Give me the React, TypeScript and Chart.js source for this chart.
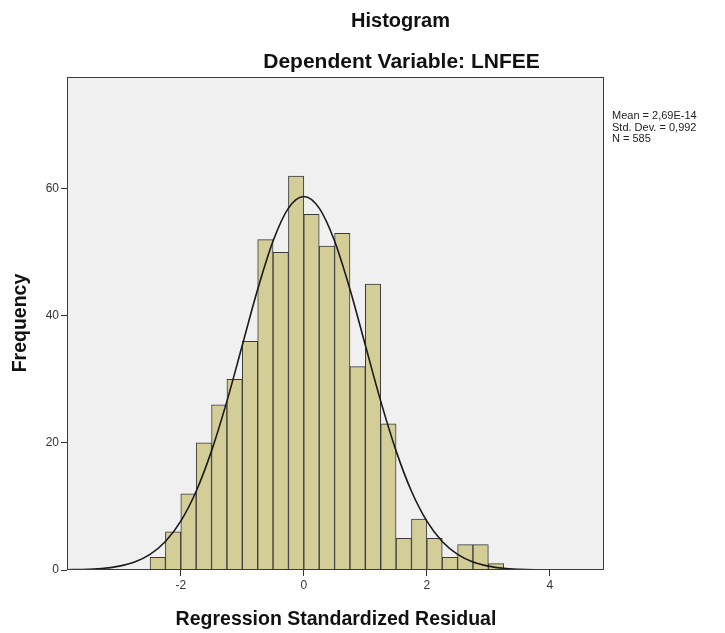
import React, { useEffect, useRef } from "react";
import { Chart, registerables } from "chart.js";

Chart.register(...registerables);

// Histogram bins (centres, bin width 0.25) and frequencies
const BIN_CENTERS = [
  -2.375, -2.125, -1.875, -1.625, -1.375, -1.125, -0.875, -0.625, -0.375, -0.125,
  0.125, 0.375, 0.625, 0.875, 1.125, 1.375, 1.625, 1.875, 2.125, 2.375, 2.625, 2.875, 3.125,
];
const FREQUENCIES = [
  2, 6, 12, 20, 26, 30, 36, 52, 50, 62,
  56, 51, 53, 32, 45, 23, 5, 8, 5, 2, 4, 4, 1,
];

// Normal curve
const CURVE_X = [
  -3.85, -3.5, -3.25, -3, -2.75, -2.5, -2.25, -2, -1.75, -1.5, -1.25, -1, -0.75, -0.5, -0.25,
  0, 0.25, 0.5, 0.75, 1, 1.25, 1.5, 1.75, 2, 2.25, 2.5, 2.75, 3, 3.25, 3.5, 3.75, 4, 4.5, 4.88,
];
const CURVE_Y = [
  0.03, 0.12, 0.27, 0.61, 1.26, 2.46, 4.49, 7.7, 12.4, 18.75, 26.58, 35.38, 44.18, 51.78, 56.96,
  58.8, 56.96, 51.78, 44.18, 35.38, 26.58, 18.75, 12.4, 7.7, 4.49, 2.46, 1.26, 0.61, 0.27, 0.12, 0.05, 0.02, 0, 0,
];

const X_TICKS = [-2, 0, 2, 4];
const Y_TICKS = [0, 20, 40, 60];
const X_MIN = -3.85;
const X_MAX = 4.88;
const Y_MAX = 77.6;

const TITLE = "Histogram";
const SUBTITLE = "Dependent Variable: LNFEE";
const X_TITLE = "Regression Standardized Residual";
const Y_TITLE = "Frequency";
const STATS = ["Mean = 2,69E-14", "Std. Dev. = 0,992", "N = 585"];

const FONT = "'Liberation Sans', Arial, sans-serif";

export default function App() {
  const ref = useRef<HTMLCanvasElement | null>(null);

  useEffect(() => {
    document.body.style.margin = "0";
    const canvas = ref.current;
    if (!canvas) return;

    const decor = {
      id: "decor",
      beforeDraw(chart: any) {
        const { ctx, chartArea } = chart;
        ctx.save();
        ctx.fillStyle = "#ffffff";
        ctx.fillRect(0, 0, chart.width, chart.height);
        ctx.fillStyle = "#f0f0f0";
        ctx.fillRect(chartArea.left, chartArea.top, chartArea.right - chartArea.left, chartArea.bottom - chartArea.top);
        ctx.restore();
      },
      afterDraw(chart: any) {
        const { ctx, chartArea } = chart;
        ctx.save();
        ctx.strokeStyle = "#3a3a3a";
        ctx.lineWidth = 1;
        ctx.strokeRect(
          Math.round(chartArea.left) + 0.5,
          Math.round(chartArea.top) + 0.5,
          Math.round(chartArea.right - chartArea.left) - 1,
          Math.round(chartArea.bottom - chartArea.top) - 1
        );
        ctx.fillStyle = "#111";
        ctx.textAlign = "center";
        ctx.textBaseline = "alphabetic";
        ctx.font = `bold 20px ${FONT}`;
        ctx.fillText(TITLE, 400.5, 27);
        ctx.font = `bold 21px ${FONT}`;
        ctx.fillText(SUBTITLE, 401.5, 68);
        ctx.font = `bold 19.5px ${FONT}`;
        ctx.fillText(X_TITLE, 336, 625);
        ctx.save();
        ctx.translate(26, 323);
        ctx.rotate(-Math.PI / 2);
        ctx.fillText(Y_TITLE, 0, 0);
        ctx.restore();
        ctx.font = `11px ${FONT}`;
        ctx.textAlign = "left";
        ctx.fillStyle = "#222";
        STATS.forEach((s, i) => ctx.fillText(s, 612, 119 + i * 11.5));
        ctx.restore();
      },
    };

    const chart = new Chart(canvas, {
      type: "bar",
      data: {
        datasets: [
          {
            type: "line",
            data: CURVE_X.map((x, i) => ({ x, y: CURVE_Y[i] })),
            borderColor: "#1a1a1a",
            borderWidth: 1.6,
            pointRadius: 0,
            tension: 0.4,
            cubicInterpolationMode: "monotone",
            fill: false,
            order: 0,
          } as any,
          {
            type: "bar",
            data: BIN_CENTERS.map((x, i) => ({ x, y: FREQUENCIES[i] })),
            backgroundColor: "#d3ce97",
            borderColor: "#3a3a3a",
            borderWidth: 1,
            barPercentage: 1,
            categoryPercentage: 1,
            order: 1,
          } as any,
        ],
      },
      options: {
        responsive: false,
        animation: false,
        layout: { padding: { top: 77, right: 121, left: 0, bottom: 0 } },
        plugins: { legend: { display: false }, tooltip: { enabled: false }, title: { display: false } },
        scales: {
          x: {
            type: "linear",
            min: X_MIN,
            max: X_MAX,
            offset: false,
            grid: { offset: false, drawOnChartArea: false, drawTicks: true, tickLength: 6, color: "#333" },
            border: { display: false },
            ticks: { color: "#333", font: { size: 12, family: FONT }, padding: 2, autoSkip: false, maxRotation: 0 },
            afterBuildTicks: (s: any) => {
              s.ticks = X_TICKS.map((v) => ({ value: v }));
            },
            afterFit: (s: any) => {
              s.height = 633 - 570;
            },
          },
          y: {
            type: "linear",
            min: 0,
            max: Y_MAX,
            grid: { drawOnChartArea: false, drawTicks: true, tickLength: 6, color: "#333" },
            border: { display: false },
            ticks: { color: "#333", font: { size: 12, family: FONT }, padding: 2 },
            afterBuildTicks: (s: any) => {
              s.ticks = Y_TICKS.map((v) => ({ value: v }));
            },
            afterFit: (s: any) => {
              s.width = 67;
            },
          },
        },
      },
      plugins: [decor],
    });
    return () => chart.destroy();
  }, []);

  return (
    <div style={{ width: 725, height: 633 }}>
      <canvas ref={ref} width={725} height={633} style={{ display: "block" }} />
    </div>
  );
}
